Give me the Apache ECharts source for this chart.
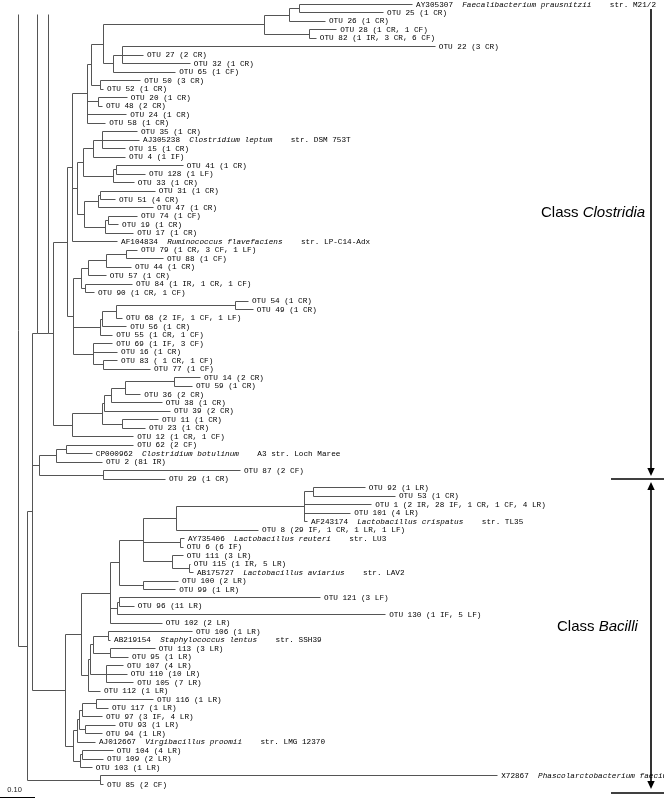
<!DOCTYPE html>
<html><head><meta charset="utf-8">
<script src="https://cdn.jsdelivr.net/npm/echarts@6/dist/echarts.min.js"></script>
<style>html,body{margin:0;padding:0;background:#fff}#c{width:664px;height:798px}</style>
</head><body><div id="c"></div><script>
// ---- leaves (top to bottom); "acc|species|strain" marks an italic species name
const leafLabels = [
'AY305307|Faecalibacterium prausnitzii|str. M21/2','OTU 25 (1 CR)','OTU 26 (1 CR)','OTU 28 (1 CR, 1 CF)','OTU 82 (1 IR, 3 CR, 6 CF)',
'OTU 22 (3 CR)','OTU 27 (2 CR)','OTU 32 (1 CR)','OTU 65 (1 CF)','OTU 50 (3 CR)','OTU 52 (1 CR)','OTU 20 (1 CR)','OTU 48 (2 CR)',
'OTU 24 (1 CR)','OTU 58 (1 CR)','OTU 35 (1 CR)','AJ305238|Clostridium leptum|str. DSM 753T','OTU 15 (1 CR)','OTU 4 (1 IF)',
'OTU 41 (1 CR)','OTU 128 (1 LF)','OTU 33 (1 CR)','OTU 31 (1 CR)','OTU 51 (4 CR)','OTU 47 (1 CR)','OTU 74 (1 CF)','OTU 19 (1 CR)',
'OTU 17 (1 CR)','AF104834|Ruminococcus flavefaciens|str. LP-C14-Adx','OTU 79 (1 CR, 3 CF, 1 LF)','OTU 88 (1 CF)','OTU 44 (1 CR)',
'OTU 57 (1 CR)','OTU 84 (1 IR, 1 CR, 1 CF)','OTU 90 (1 CR, 1 CF)','OTU 54 (1 CR)','OTU 49 (1 CR)','OTU 68 (2 IF, 1 CF, 1 LF)',
'OTU 56 (1 CR)','OTU 55 (1 CR, 1 CF)','OTU 69 (1 IF, 3 CF)','OTU 16 (1 CR)','OTU 83 ( 1 CR, 1 CF)','OTU 77 (1 CF)','OTU 14 (2 CR)',
'OTU 59 (1 CR)','OTU 36 (2 CR)','OTU 38 (1 CR)','OTU 39 (2 CR)','OTU 11 (1 CR)','OTU 23 (1 CR)','OTU 12 (1 CR, 1 CF)','OTU 62 (2 CF)',
'CP000962|Clostridium botulinum|A3 str. Loch Maree','OTU 2 (81 IR)','OTU 87 (2 CF)','OTU 29 (1 CR)','OTU 92 (1 LR)','OTU 53 (1 CR)',
'OTU 1 (2 IR, 28 IF, 1 CR, 1 CF, 4 LR)','OTU 101 (4 LR)','AF243174|Lactobacillus crispatus|str. TL35','OTU 8 (29 IF, 1 CR, 1 LR, 1 LF)',
'AY735406|Lactobacillus reuteri|str. LU3','OTU 6 (6 IF)','OTU 111 (3 LR)','OTU 115 (1 IR, 5 LR)','AB175727|Lactobacillus aviarius|str. LAV2',
'OTU 100 (2 LR)','OTU 99 (1 LR)','OTU 121 (3 LF)','OTU 96 (11 LR)','OTU 130 (1 IF, 5 LF)','OTU 102 (2 LR)','OTU 106 (1 LR)',
'AB219154|Staphylococcus lentus|str. SSH39','OTU 113 (3 LR)','OTU 95 (1 LR)','OTU 107 (4 LR)','OTU 110 (10 LR)','OTU 105 (7 LR)',
'OTU 112 (1 LR)','OTU 116 (1 LR)','OTU 117 (1 LR)','OTU 97 (3 IF, 4 LR)','OTU 93 (1 LR)','OTU 94 (1 LR)',
'AJ012667|Virgibacillus proomii|str. LMG 12370','OTU 104 (4 LR)','OTU 109 (2 LR)','OTU 103 (1 LR)','X72867|Phascolarctobacterium faecium|',
'OTU 85 (2 CF)'
];
const leafParents = ['A1','A1','A2','A3','A3','A6','A6','A6','A7','A8','A8','A11','A11','A10','A10','B1','B1','B1','B2','B3a','B3a','B3',
'C1','C1','C2','C3','C3','C4','H1','D1','D1','D2','D3','D4','D4','E1','E1','E2','E3','E4','F1','F1','F2','F2','I1','I1','I2','I3','I4',
'I5','I5','I7','M1','M1','M2','M3','M3','T1','T1','T2','T2','T2','T3','T4','T4','T6','T5','T5','T9','T9','T11','T11','T12','T13',
'U1','U1','U2','U2','U4','U4','U4','U5','V1','V1','V2','V3','V3','V5','V6','V6','V7','N100','N100'];
// distance of each leaf tip from the root (substitutions per site)
const leafDepths = [1.126,1.043,0.877,0.909,0.851,1.191,0.357,0.491,0.449,0.349,0.243,0.311,0.240,0.309,0.249,0.340,0.346,0.306,0.306,
0.471,0.363,0.331,0.391,0.277,0.386,0.340,0.286,0.329,0.283,0.340,0.414,0.323,0.251,0.326,0.217,0.657,0.671,0.297,0.309,0.269,0.269,
0.283,0.283,0.377,0.520,0.497,0.349,0.411,0.434,0.400,0.363,0.329,0.329,0.211,0.240,0.634,0.420,0.991,1.077,1.009,0.949,0.826,0.686,
0.474,0.471,0.471,0.491,0.500,0.457,0.449,0.863,0.331,1.049,0.411,0.497,0.263,0.391,0.314,0.300,0.311,0.329,0.234,0.386,0.257,0.240,
0.277,0.240,0.220,0.271,0.243,0.211,1.369,0.243];
// ---- internal nodes
const nodeIds =     ['R','N27','N32','L','K','J','H2','H1','A10','A9','A5','A4','A2','A1','A3','A7','A6','A8','A11','B5','B4','B2','B1','B3','B3a',
'C5','C2','C1','C4','C3','H3','D5','D3','D2','D1','D4','E4','E3','E2','E1','F1','F2','I7','I6','I4','I3','I2','I1','I5','N38','M2','M1','M3',
'BAC','P','T13','T10','T8','T3','T2','T1','T4','T6','T5','T9','T12','T11','U5','U5a','U3','U1','U2','U4','Q','V5','V4','V2','V1','V3','V7','V6','N100'];
const nodeParents = [null,'R','N27','N32','L','K','J','H2','H1','A10','A9','A5','A4','A2','A4','A5','A7','A9','A10','H1','B5','B4','B2','B4','B3',
'B5','C5','C2','C5','C4','H2','H3','D5','D3','D2','D5','H3','E4','E3','E2','H3','F1','J','I7','I6','I4','I3','I2','I6','N32','N38','M2','N38',
'N32','BAC','P','T13','T10','T8','T3','T2','T8','T8','T6','T10','T13','T12','P','U5','U5a','U3','U3','U5a','BAC','Q','V5','V4','V2','V4','Q','V7','N27'];
const nodeDepths = [0,0.026,0.040,0.054,0.086,0.100,0.140,0.154,0.197,0.209,0.243,0.703,0.774,0.803,0.831,0.271,0.297,0.234,0.229,0.169,0.186,0.214,0.240,0.271,0.280,
0.189,0.229,0.234,0.249,0.257,0.157,0.180,0.200,0.251,0.309,0.191,0.234,0.240,0.280,0.620,0.214,0.243,0.154,0.240,0.246,0.266,0.306,0.446,0.297,0.059,0.109,0.137,0.243,
0.134,0.180,0.263,0.289,0.357,0.451,0.817,0.843,0.463,0.440,0.489,0.357,0.283,0.289,0.200,0.206,0.214,0.257,0.263,0.251,0.157,0.169,0.174,0.183,0.223,0.191,0.177,0.183,0.234];
// nodes whose stems continue into the truncated upper part of the tree
const truncatedNodes = ['R','L','K'];
const truncationRow = 1.2;
const scaleBarLength = 0.10;
const scaleBarLabel = '0.10';
const classLabels = ['Clostridia','Bacilli'];

// ---- layout from topology
const idx = {}; nodeIds.forEach((id,i)=>idx[id]=i);
const kidsLeaf = nodeIds.map(()=>[]), kidsNode = nodeIds.map(()=>[]);
leafParents.forEach((p,i)=>kidsLeaf[idx[p]].push(i));
nodeParents.forEach((p,i)=>{ if(p!==null) kidsNode[idx[p]].push(i); });
const nodeY = nodeIds.map(()=>null), span = nodeIds.map(()=>null);
function yOf(i){
  if(nodeY[i]!==null) return nodeY[i];
  const ys = kidsLeaf[i].slice();
  kidsNode[i].forEach(c=>ys.push(yOf(c)));
  const lo = Math.min.apply(null,ys), hi = Math.max.apply(null,ys);
  span[i] = [lo,hi]; nodeY[i] = (lo+hi)/2; return nodeY[i];
}
nodeIds.forEach((_,i)=>yOf(i));
const segs = [];
leafDepths.forEach((d,i)=>segs.push([nodeDepths[idx[leafParents[i]]], i, d, i]));
nodeIds.forEach((id,i)=>{
  if(nodeParents[i]!==null) segs.push([nodeDepths[idx[nodeParents[i]]], nodeY[i], nodeDepths[i], nodeY[i]]);
  let lo = span[i][0]; const hi = span[i][1];
  if(truncatedNodes.indexOf(id)>=0) lo = Math.min(lo, truncationRow);
  if(hi>lo) segs.push([nodeDepths[i], lo, nodeDepths[i], hi]);
});
const labelData = leafDepths.map((d,i)=>[d,i,i]);
const nRows = leafLabels.length;

const MONO = '"Liberation Mono","DejaVu Sans Mono",monospace';
const FS = 7.7;
function richLabel(s){
  const parts = s.split('|');
  if(parts.length===1) return parts[0];
  let t = '{n|'+parts[0]+'  }{i|'+parts[1]+'}';
  if(parts[2]) t += '{n|    '+parts[2]+'}';
  return t;
}
const snap = v => Math.round(v)+0.5;
const PXPU = 350, ROWPX = 8.478;
const chart = echarts.init(document.getElementById('c'), null, {renderer:'canvas'});
chart.setOption({
  animation:false,
  grid:{left:0,right:0,top:0,bottom:0},
  xAxis:{type:'value',min:-18/PXPU,max:646/PXPU,show:false},
  yAxis:{type:'value',min:-4/ROWPX,max:794/ROWPX,inverse:true,show:false},
  series:[
    {type:'custom',coordinateSystem:'cartesian2d',clip:false,data:segs,encode:{x:[0,2],y:[1,3]},
     renderItem:function(params,api){
       const a = api.coord([api.value(0),api.value(1)]), b = api.coord([api.value(2),api.value(3)]);
       return {type:'line',shape:{x1:snap(a[0]),y1:snap(a[1]),x2:snap(b[0]),y2:snap(b[1])},style:{stroke:'#555',lineWidth:1}};
     }},
    {type:'custom',coordinateSystem:'cartesian2d',clip:false,data:labelData,encode:{x:0,y:1},
     renderItem:function(params,api){
       const p = api.coord([api.value(0),api.value(1)]);
       const s = leafLabels[api.value(2)];
       return {type:'text',x:p[0]+4,y:p[1]+0.5,style:{text:richLabel(s),fill:'#000',fontSize:FS,fontFamily:MONO,
         align:'left',verticalAlign:'middle',
         rich:{n:{fontSize:FS,fontFamily:MONO,fill:'#000'},i:{fontSize:FS,fontFamily:MONO,fontStyle:'italic',fill:'#000'}}}};
     }},
    {type:'custom',coordinateSystem:'cartesian2d',clip:false,data:[[-18/PXPU, nRows+0.55, -18/PXPU+scaleBarLength]],encode:{x:[0,2],y:1},
     renderItem:function(params,api){
       const a = api.coord([api.value(0),api.value(1)]), b = api.coord([api.value(2),api.value(1)]);
       return {type:'group',children:[
         {type:'line',shape:{x1:a[0],y1:snap(a[1]),x2:b[0],y2:snap(a[1])},style:{stroke:'#000',lineWidth:1}},
         {type:'text',x:(a[0]+b[0])/2-3,y:a[1]-7,style:{text:scaleBarLabel,fill:'#222',fontSize:7.5,fontFamily:'"Liberation Sans",Arial,sans-serif',align:'center',verticalAlign:'middle'}}
       ]};
     }}
  ],
  graphic:[
    {type:'line',shape:{x1:651,y1:9,x2:651,y2:469},style:{stroke:'#000',lineWidth:1.6}},
    {type:'polygon',shape:{points:[[647.3,468],[654.7,468],[651,476]]},style:{fill:'#000'}},
    {type:'line',shape:{x1:611,y1:479,x2:664,y2:479},style:{stroke:'#000',lineWidth:1.6}},
    {type:'polygon',shape:{points:[[651,482],[647.3,490],[654.7,490]]},style:{fill:'#000'}},
    {type:'line',shape:{x1:651,y1:489,x2:651,y2:782},style:{stroke:'#000',lineWidth:1.6}},
    {type:'polygon',shape:{points:[[647.3,781],[654.7,781],[651,789]]},style:{fill:'#000'}},
    {type:'line',shape:{x1:611,y1:793,x2:664,y2:793},style:{stroke:'#000',lineWidth:1.6}},
    {type:'text',x:541,y:213,style:{text:'{r|Class }{i|'+classLabels[0]+'}',verticalAlign:'middle',align:'left',
      rich:{r:{fontSize:15,fontFamily:'"Liberation Sans",Arial,sans-serif',fill:'#000'},i:{fontSize:15,fontStyle:'italic',fontFamily:'"Liberation Sans",Arial,sans-serif',fill:'#000'}}}},
    {type:'text',x:557,y:627,style:{text:'{r|Class }{i|'+classLabels[1]+'}',verticalAlign:'middle',align:'left',
      rich:{r:{fontSize:15,fontFamily:'"Liberation Sans",Arial,sans-serif',fill:'#000'},i:{fontSize:15,fontStyle:'italic',fontFamily:'"Liberation Sans",Arial,sans-serif',fill:'#000'}}}}
  ]
});
</script></body></html>
